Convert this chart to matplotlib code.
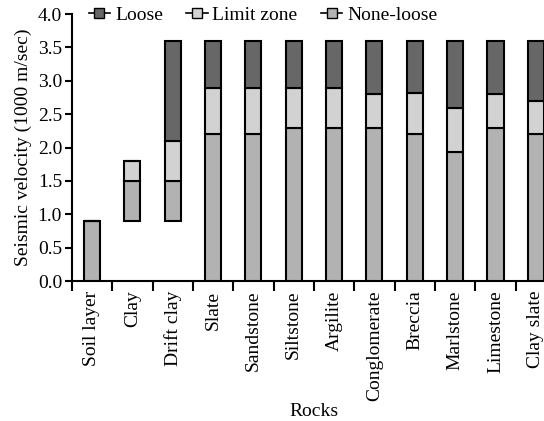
## Seismic velocity ranges of rocks: stacked floating bars
import numpy as np
import matplotlib
matplotlib.use('Agg')
import matplotlib.pyplot as plt
from matplotlib.lines import Line2D

plt.rcParams['font.family'] = ['Liberation Serif', 'DejaVu Serif']
fs = 14

# data (1000 m/sec)
rocks = ['Soil layer', 'Clay', 'Drift clay', 'Slate', 'Sandstone', 'Siltstone',
         'Argilite', 'Conglomerate', 'Breccia', 'Marlstone', 'Limestone', 'Clay slate']
base = [0.0, 0.9, 0.9, 0, 0, 0, 0, 0, 0, 0, 0, 0]               # bottom of none-loose
none_loose_top = [0.9, 1.5, 1.5, 2.2, 2.2, 2.3, 2.3, 2.3, 2.2, 1.93, 2.3, 2.2]
limit_top = [0.9, 1.8, 2.1, 2.9, 2.9, 2.9, 2.9, 2.8, 2.82, 2.6, 2.8, 2.7]
loose_top = [0.9, 1.8, 3.6, 3.6, 3.6, 3.6, 3.6, 3.59, 3.6, 3.6, 3.6, 3.6]

c_loose = '#676767'
c_limit = '#d2d2d2'
c_none = '#b2b2b2'

x = np.arange(len(rocks))
base = np.array(base)
nl = np.array(none_loose_top)
lim = np.array(limit_top)
lo = np.array(loose_top)

fig = plt.figure(figsize=[5.44, 4.21], dpi=100)
ax = fig.add_axes([0.132, 0.3325, 0.89, 0.634])

w = 0.4
kw = dict(width=w, edgecolor='k', linewidth=1.5, zorder=3)
ax.bar(x, nl - base, bottom=base, color=c_none, **kw)
ax.bar(x, lim - nl, bottom=nl, color=c_limit, **kw)
ax.bar(x, lo - lim, bottom=lim, color=c_loose, **kw)

# axes format
ax.set_xlim(-0.5, len(rocks) - 0.5)
ax.set_ylim(0, 4.0)
ax.set_yticks(np.arange(0, 4.01, 0.5))
ax.set_yticklabels([f'{v:.1f}' for v in np.arange(0, 4.01, 0.5)], fontsize=fs)
ax.set_xticks(np.arange(-0.5, len(rocks) - 0.4, 1.0))
ax.set_xticklabels([])
ax.set_xticks(x, minor=True)
ax.set_xticklabels(rocks, minor=True, rotation=90, fontsize=fs)
ax.tick_params(axis='x', which='minor', length=0, pad=7)
ax.tick_params(axis='x', which='major', direction='out', length=7, width=1.5)
ax.tick_params(axis='y', direction='out', length=5, width=1.5, pad=2)
for s in ['top', 'right']:
    ax.spines[s].set_visible(False)
for s in ['left', 'bottom']:
    ax.spines[s].set_linewidth(1.5)

ax.set_ylabel('Seismic velocity (1000 m/sec)', fontsize=fs, labelpad=4)
ax.set_xlabel('Rocks', fontsize=fs, labelpad=1)

# legend: line + square marker handles
handles = [Line2D([], [], color='k', lw=1.2, marker='s', markersize=7,
                  markerfacecolor=c, markeredgecolor='k')
           for c in [c_loose, c_limit, c_none]]
ax.legend(handles, ['Loose', 'Limit zone', 'None-loose'], ncol=3, frameon=False,
          loc='center left', bbox_to_anchor=(0.035, 0.997), fontsize=fs,
          handlelength=1.1, handletextpad=0.25, columnspacing=1.2, borderaxespad=0,
          borderpad=0)

plt.savefig('out.png', dpi=100)
